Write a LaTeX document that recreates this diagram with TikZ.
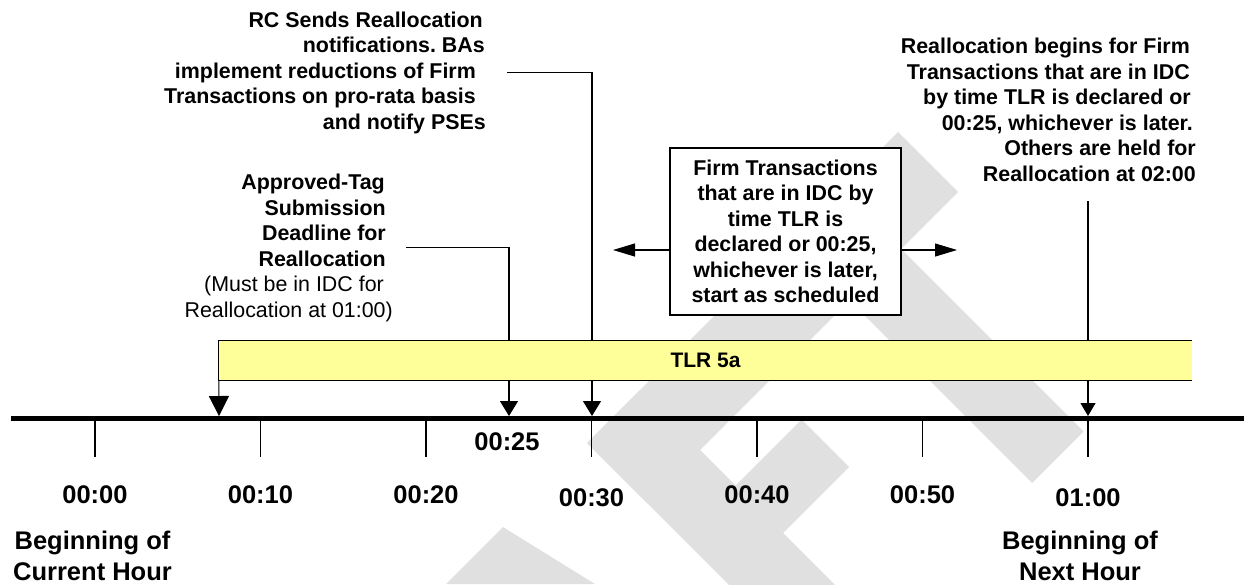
\documentclass[tikz,border=0pt]{standalone}
\usepackage{fontspec}
\setmainfont{Liberation Sans}
\usetikzlibrary{arrows.meta}
\definecolor{tlryellow}{RGB}{255,255,153}
\definecolor{wmgray}{RGB}{224,224,224}
\frenchspacing
\begin{document}
\begin{tikzpicture}[x=1pt,y=-1pt,
  txt/.style={font=\fontsize{21.4}{25.5}\selectfont\bfseries, inner sep=0pt},
  big/.style={font=\fontsize{25.5}{30.5}\selectfont\bfseries, inner sep=0pt},
  conn/.style={line width=1.1pt, black},
  tickline/.style={line width=1.5pt},
  dnbig/.style={-{Triangle[length=20pt,width=20pt]}},
  dnmid/.style={-{Triangle[length=15pt,width=18pt]}},
  dnsmall/.style={-{Triangle[length=13pt,width=15pt]}},
  hz/.style={-{Triangle[length=22pt,width=13pt]}},
  barstyle/.style={fill=tlryellow, minimum width=973pt, minimum height=39pt, inner sep=0pt,
                   font=\fontsize{21}{25}\selectfont\bfseries},
  boxstyle/.style={txt, draw, line width=1.8pt, fill=white, minimum width=231pt,
                   minimum height=167pt, align=center}
]
\useasboundingbox (0,0) rectangle (1244,584);

% watermark
\begin{scope}
\clip (0,0) rectangle (1244,584);
\fill[wmgray] (898,132) -- (958,192) -- (647,503) -- (587,443) -- cycle;
\fill[wmgray] (901,249) -- (1083.5,431.5) -- (1032,483) -- (849.5,300.5) -- cycle;
\fill[wmgray] (587,443) -- (640,390) -- (875,625) -- (822,678) -- cycle;
\fill[wmgray] (735.5,485.5) -- (801.5,419.5) -- (849,467) -- (783,533) -- cycle;
\fill[wmgray] (503,527) -- (446,584) -- (595,584) -- cycle;
\end{scope}

% arrow tip points on the time line
\coordinate (a7)  at (219,416);
\coordinate (a25) at (509,416);
\coordinate (a30) at (592,416);
\coordinate (a60) at (1088,416);
\coordinate (rbend) at (1088,201);
\coordinate (lt) at (613,250);
\coordinate (rt) at (957,250);

% text blocks
\node[txt, align=right, anchor=north east] (rc) at (486,11.5)
  {RC Sends Reallocation\kern3pt\\
   notifications. BAs\kern1pt\\
   implement reductions of Firm\kern10pt\\
   Transactions on pro-rata basis\kern10pt\\
   and notify PSEs};

\node[txt, align=right, anchor=north east] (ap) at (386,174)
  {Approved-Tag\kern1pt\\
   Submission\\
   Deadline for\\
   Reallocation\\
   \mdseries(Must be in IDC for\kern2pt\\
   \mdseries Reallocation at 01:00)\kern-7pt};

\node[txt, align=right, anchor=north east] (rb) at (1196,38)
  {Reallocation begins for Firm\kern6pt\\
   Transactions that are in IDC\kern6pt\\
   by time TLR is declared or\kern5pt\\
   00:25, whichever is later.\kern3pt\\
   Others are held for\\
   Reallocation at 02:00};

% connectors from the text blocks
\draw[conn, dnmid] ([xshift=21pt]rc.east) -| (a30);
\draw[conn, dnmid] ([xshift=20pt]ap.east) -| (a25);
\draw[conn, dnsmall] (rbend) -- (a60);

% TLR 5a bar
\node[barstyle] (tlr) at (705.5,360.5) {TLR 5a};
\draw[line width=1pt] (tlr.north east) -- (tlr.north west) -- (tlr.south west) -- (tlr.south east);
\draw[conn, dnbig] (tlr.south west) -- (a7);

% central box
\node[boxstyle] (box) at (785.5,231.5)
  {Firm Transactions\\
   that are in IDC by\\
   time TLR is\\
   declared or 00:25,\\
   whichever is later,\\
   start as scheduled};
\draw[conn, hz] (box.west |- lt) -- (lt);
\draw[conn, hz] (box.east |- rt) -- (rt);

% time line
\coordinate (tl0) at (11,418);
\coordinate (tl1) at (1244,418);
\draw[line width=5pt] (tl0) -- (tl1);

\foreach \t/\lab/\yy in {0/00:00/503, 10/00:10/503, 20/00:20/503, 30/00:30/506,
                         40/00:40/503, 50/00:50/503, 60/01:00/506} {
  \coordinate (tk\t) at ({95+16.55*\t},420);
  \draw[tickline] (tk\t) -- ++(0,37);
  \node[big, anchor=base] (lab\t) at ({95+16.55*\t},\yy) {\lab};
}
\node[big, anchor=base] (lab25) at (507,450) {00:25};

\node[big, align=center, anchor=north] (cur) at (92.5,531)
  {Beginning of\\ Current Hour};
\node[big, align=center, anchor=north] (nxt) at (1080,531)
  {Beginning of\\ Next Hour};
\end{tikzpicture}
\end{document}
